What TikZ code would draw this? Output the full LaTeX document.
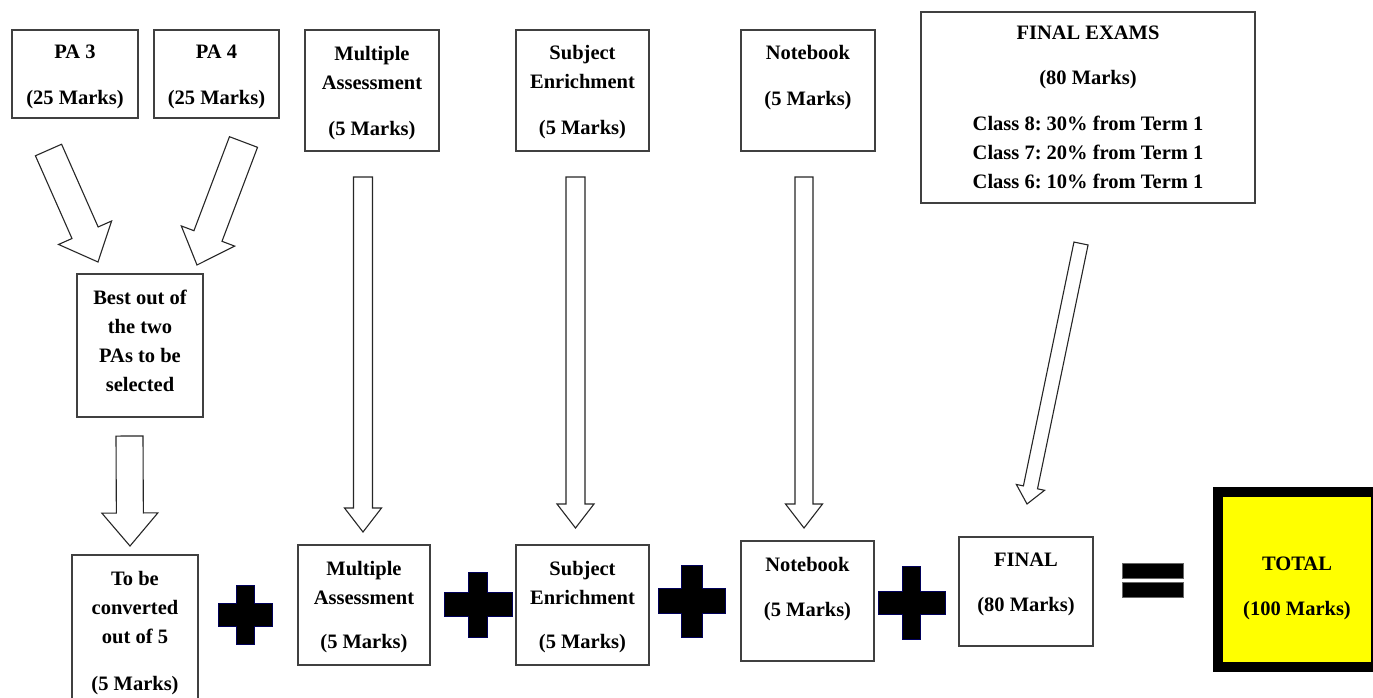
\documentclass[tikz,border=0pt]{standalone}
\usepackage{fontspec}
\setmainfont{Liberation Serif}
\usetikzlibrary{calc}
\definecolor{totalyellow}{RGB}{255,255,0}
\frenchspacing

\tikzset{
  box/.style={draw=black!75, line width=1.1pt, inner sep=0pt},
  boxtext/.style={font=\fontsize{20.5}{29}\selectfont\bfseries, align=center, inner sep=0pt,
    anchor=north, execute at begin node=\strut},
  totalbox/.style={draw=black, line width=10pt, fill=totalyellow, inner sep=0pt},
  hollow/.style={draw=black!85, line width=1.1pt, fill=white, line join=miter},
  plusfill/.style={fill=black, draw=blue!35!black, line width=0.8pt},
  barfill/.style={fill=black, draw=black!60, line width=0.6pt},
}

% hollow block arrow: tail, tip, half shaft, half head, head length
\newcommand{\hollowarrow}[5]{%
  \coordinate (ha-h) at ($(#2)!#5!(#1)$);
  \draw[hollow] ($(#1)!#3!90:(#2)$) -- ($(ha-h)!#3!90:(#2)$) -- ($(ha-h)!#4!90:(#2)$)
    -- (#2) -- ($(ha-h)!#4!-90:(#2)$) -- ($(ha-h)!#3!-90:(#2)$) -- ($(#1)!#3!-90:(#2)$) -- cycle;
}

\begin{document}
\begin{tikzpicture}[x=1pt, y=-1pt]
    \useasboundingbox (0,0) rectangle (1373,697);
    \clip (0,0) rectangle (1373,697);

    % top row
    \node[box, minimum width=126pt, minimum height=88pt] (pa3) at (75,74) {};
    \node[box, minimum width=125pt, minimum height=88pt] (pa4) at (216.5,74) {};
    \node[box, minimum width=134pt, minimum height=121pt] (mat) at (372,90.5) {};
    \node[box, minimum width=133pt, minimum height=121pt] (set) at (582.5,90.5) {};
    \node[box, minimum width=134pt, minimum height=121pt] (nbt) at (808,90.5) {};
    \node[box, minimum width=334pt, minimum height=191pt] (fex) at (1088,107.5) {};
    \node[box, minimum width=126pt, minimum height=143pt] (best) at (140,345.5) {};

    \node[boxtext] (pa3t) at ([yshift=-15.7pt]pa3.north) {PA 3\\[17pt](25 Marks)};
    \node[boxtext] (pa4t) at ([yshift=-15.7pt]pa4.north) {PA 4\\[17pt](25 Marks)};
    \node[boxtext] (matt) at ([yshift=-16.7pt]mat.north) {Multiple\\Assessment\\[17pt](5 Marks)};
    \node[boxtext] (sett) at ([yshift=-15.7pt]set.north) {Subject\\Enrichment\\[17pt](5 Marks)};
    \node[boxtext] (nbtt) at ([yshift=-15.7pt]nbt.north) {Notebook\\[17pt](5 Marks)};
    \node[boxtext] (fext) at ([yshift=-14.7pt]fex.north) {FINAL EXAMS\\[16pt](80 Marks)\\[17pt]Class 8: 30\% from Term 1\\Class 7: 20\% from Term 1\\Class 6: 10\% from Term 1};
    \node[boxtext] (bestt) at ([yshift=-16.7pt]best.north) {Best out of\\the two\\PAs to be\\selected};

    % bottom row
    \node[box, minimum width=126pt, minimum height=147pt] (conv) at (135,628.5) {};
    \node[box, minimum width=132pt, minimum height=120pt] (mab) at (364,605) {};
    \node[box, minimum width=133pt, minimum height=120pt] (seb) at (582.5,605) {};
    \node[box, minimum width=133pt, minimum height=120pt] (nbb) at (807.5,601) {};
    \node[box, minimum width=134pt, minimum height=109pt] (fin) at (1026,591.5) {};
    \node[totalbox, minimum width=158pt, minimum height=175pt] (total) at (1297,579.5) {};

    \node[boxtext] (convt) at ([yshift=-16.2pt]conv.north) {To be\\converted\\out of 5\\[18pt](5 Marks)};
    \node[boxtext] (mabt) at ([yshift=-16.2pt]mab.north) {Multiple\\Assessment\\[15pt](5 Marks)};
    \node[boxtext] (sebt) at ([yshift=-16.2pt]seb.north) {Subject\\Enrichment\\[15pt](5 Marks)};
    \node[boxtext] (nbbt) at ([yshift=-16.2pt]nbb.north) {Notebook\\[16pt](5 Marks)};
    \node[boxtext] (fint) at ([yshift=-16.2pt]fin.north) {FINAL\\[16pt](80 Marks)};
    \node[boxtext] (totalt) at (1297,556.5) {TOTAL\\[16pt](100 Marks)};

    % arrow ends
    \coordinate (pa3-a) at (48.5,150);   \coordinate (pa3-b) at (98,262);
    \coordinate (pa4-a) at (243.5,142);  \coordinate (pa4-b) at (197,265);
    \coordinate (best-a) at (129.5,436); \coordinate (best-b) at (130,546);
    \coordinate (mat-a) at (363,177);    \coordinate (mat-b) at (363,532);
    \coordinate (set-a) at (575.5,177);  \coordinate (set-b) at (575.5,528);
    \coordinate (nbt-a) at (804,177);    \coordinate (nbt-b) at (804,528);
    \coordinate (fex-a) at (1081,243.5); \coordinate (fex-b) at (1027,504);

    \hollowarrow{pa3-a}{pa3-b}{14.3pt}{29pt}{32pt}
    \hollowarrow{pa4-a}{pa4-b}{15pt}{28.5pt}{31pt}
    \hollowarrow{best-a}{best-b}{13.5pt}{28pt}{33pt}
    \hollowarrow{mat-a}{mat-b}{9.5pt}{18.5pt}{24pt}
    \hollowarrow{set-a}{set-b}{9.5pt}{18.5pt}{24pt}
    \hollowarrow{nbt-a}{nbt-b}{9pt}{18.5pt}{24pt}
    \hollowarrow{fex-a}{fex-b}{7.2pt}{14.4pt}{17pt}

    % plus signs
    \foreach \cx/\cy/\w/\h/\a/\b in {245/615/54/59/18/23, 478/604.5/68/65/19/24,
        691.5/601/67/72/21/25, 911.5/602.5/67/73/18/23}
      \filldraw[plusfill] ({\cx-\a/2},{\cy-\h/2}) -- ({\cx+\a/2},{\cy-\h/2}) -- ({\cx+\a/2},{\cy-\b/2})
        -- ({\cx+\w/2},{\cy-\b/2}) -- ({\cx+\w/2},{\cy+\b/2}) -- ({\cx+\a/2},{\cy+\b/2})
        -- ({\cx+\a/2},{\cy+\h/2}) -- ({\cx-\a/2},{\cy+\h/2}) -- ({\cx-\a/2},{\cy+\b/2})
        -- ({\cx-\w/2},{\cy+\b/2}) -- ({\cx-\w/2},{\cy-\b/2}) -- ({\cx-\a/2},{\cy-\b/2}) -- cycle;

    % equals sign
    \filldraw[barfill] (1122,563) rectangle (1183,578);
    \filldraw[barfill] (1122,582) rectangle (1183,597);
\end{tikzpicture}
\end{document}
